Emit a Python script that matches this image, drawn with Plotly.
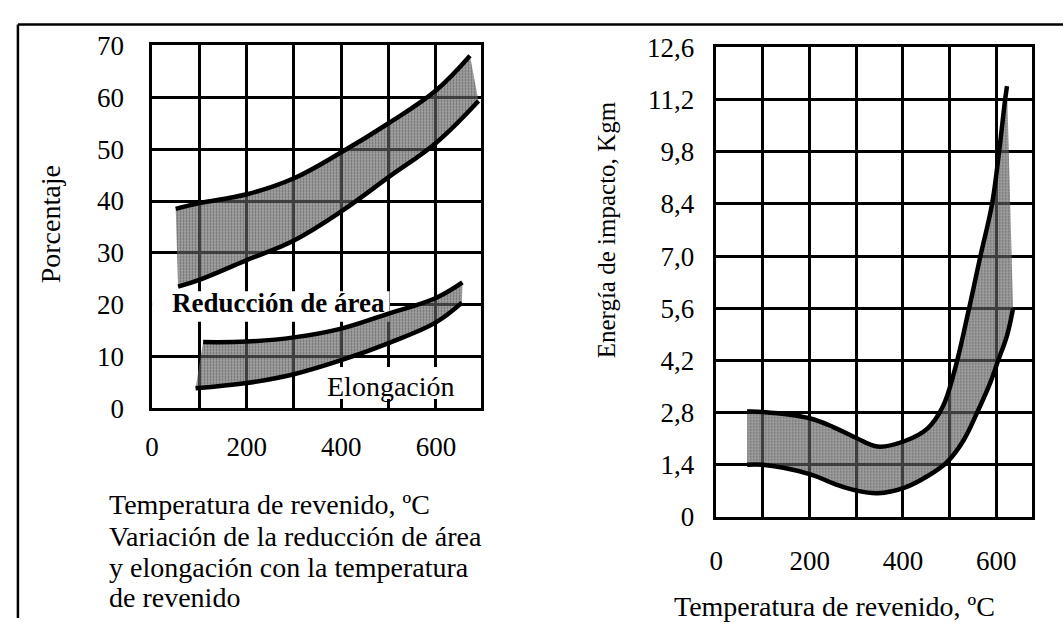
import plotly.graph_objects as go

W, H = 1063, 633
SERIF = "Liberation Serif"

# ---- Left panel: reducción de área y elongación (%) vs temperatura de revenido (°C)
ra_upper_t = [50, 100, 200, 300, 400, 500, 600, 672]
ra_upper = [38.5, 39.6, 41.3, 44.4, 49.4, 55.0, 61.3, 68.0]
ra_lower_t = [55, 100, 200, 300, 400, 500, 600, 690]
ra_lower = [23.5, 24.8, 28.6, 32.4, 38.0, 44.6, 51.2, 59.3]

el_upper_t = [108, 200, 300, 400, 500, 600, 656]
el_upper = [12.8, 12.9, 13.7, 15.4, 18.3, 21.3, 24.3]
el_lower_t = [92, 200, 300, 400, 500, 600, 655]
el_lower = [3.9, 4.9, 6.6, 9.3, 12.6, 16.6, 20.4]

left_y_ticks = [0, 10, 20, 30, 40, 50, 60, 70]
left_x_ticks = [0, 200, 400, 600]

# ---- Right panel: energía de impacto (Kgm) vs temperatura de revenido (°C)
ie_upper_t = [66, 100, 200, 253, 300, 346, 404, 453, 485, 510, 540, 566, 591, 606, 619, 623]
ie_upper = [2.83, 2.82, 2.65, 2.40, 2.12, 1.89, 2.04, 2.38, 2.95, 3.90, 5.5, 7.0, 8.4, 9.8, 11.2, 11.56]
ie_lower_t = [66, 100, 200, 253, 300, 346, 404, 453, 495, 530, 560, 587, 604, 623, 636]
ie_lower = [1.40, 1.40, 1.15, 0.89, 0.71, 0.64, 0.79, 1.10, 1.48, 2.06, 2.83, 3.6, 4.2, 4.87, 5.6]

right_y_ticks = [0, 1.4, 2.8, 4.2, 5.6, 7.0, 8.4, 9.8, 11.2, 12.6]
right_y_labels = ["0", "1,4", "2,8", "4,2", "5,6", "7,0", "8,4", "9,8", "11,2", "12,6"]
right_x_ticks = [0, 200, 400, 600]


def px_x(p):
    return p / W


def px_y(p):
    return 1 - p / H


LINE = dict(color="black", width=4.5, shape="spline", smoothing=1.1)
FILL = "rgba(105,105,105,0.62)"
PATTERN = dict(shape=".", fgcolor="#303030", size=3, solidity=0.3, fillmode="overlay")


def band(fig, tx_lo, lo, tx_hi, hi, xa, ya):
    fig.add_trace(go.Scatter(x=tx_lo, y=lo, mode="lines", line=LINE,
                             xaxis=xa, yaxis=ya, hoverinfo="skip"))
    fig.add_trace(go.Scatter(x=tx_hi, y=hi, mode="lines", line=LINE,
                             fill="tonexty", fillcolor=FILL, fillpattern=PATTERN,
                             xaxis=xa, yaxis=ya, hoverinfo="skip"))


fig = go.Figure()
band(fig, ra_lower_t, ra_lower, ra_upper_t, ra_upper, "x", "y")
band(fig, el_lower_t, el_lower, el_upper_t, el_upper, "x", "y")
band(fig, ie_lower_t, ie_lower, ie_upper_t, ie_upper, "x2", "y2")

grid = dict(showgrid=True, gridcolor="black", gridwidth=2.5, zeroline=False,
            showline=True, linecolor="black", linewidth=2.5, mirror=True,
            ticks="", tickfont=dict(family=SERIF, size=27, color="black"))
minor = dict(dtick=100, tick0=0, showgrid=True, gridcolor="black", gridwidth=2.5)

fig.update_layout(
    width=W, height=H,
    margin=dict(l=0, r=0, t=0, b=0),
    paper_bgcolor="white", plot_bgcolor="white",
    showlegend=False,
    xaxis=dict(domain=[px_x(146), px_x(477)], range=[0, 695], tickvals=left_x_ticks,
               minor=minor, ticklabelstandoff=12, anchor="y", **grid),
    yaxis=dict(domain=[px_y(413), px_y(32)], range=[0, 70], tickvals=left_y_ticks,
               ticklabelstandoff=20, anchor="x", **grid),
    xaxis2=dict(domain=[px_x(714), px_x(1032)], range=[0, 677], tickvals=right_x_ticks,
                minor=minor, ticklabelstandoff=18, anchor="y2", **grid),
    yaxis2=dict(domain=[px_y(527), px_y(34)], range=[0, 12.6], tickvals=right_y_ticks,
                ticktext=right_y_labels, ticklabelstandoff=14, anchor="x2", **grid),
)

# white label backgrounds that interrupt the grid
for x0, x1, y0, y1 in [(0, 502, 16.7, 22.6), (361, 680, 1.8, 8.0)]:
    fig.add_shape(type="rect", xref="x", yref="y", x0=x0, x1=x1, y0=y0, y1=y1,
                  fillcolor="white", line_width=0, layer="between")

# outer frame (top and left edges)
frame = dict(color="black", width=2.5)
fig.add_shape(type="line", xref="paper", yref="paper", x0=px_x(11), x1=1,
              y0=px_y(10), y1=px_y(10), line=frame)
fig.add_shape(type="line", xref="paper", yref="paper", x0=px_x(11), x1=px_x(11),
              y0=px_y(10), y1=0, line=frame)

txt = dict(family=SERIF, size=28, color="black")
ann = [
    dict(text="Porcentaje", x=px_x(44), y=px_y(220), textangle=-90, xanchor="center", font=txt),
    dict(text="Energía de impacto, Kgm", x=px_x(603), y=px_y(226), textangle=-90,
         xanchor="center", font=dict(family=SERIF, size=25, color="black")),
    dict(text="Temperatura de revenido, ºC", x=px_x(101), y=px_y(514), xanchor="left", font=txt),
    dict(text="Variación de la reducción de área", x=px_x(101), y=px_y(547), xanchor="left", font=txt),
    dict(text="y elongación con la temperatura", x=px_x(101), y=px_y(580), xanchor="left", font=txt),
    dict(text="de revenido", x=px_x(101), y=px_y(611), xanchor="left", font=txt),
    dict(text="Temperatura de revenido, ºC", x=px_x(833), y=px_y(621), xanchor="center", font=txt),
]
for a in ann:
    fig.add_annotation(xref="paper", yref="paper", showarrow=False, yanchor="middle", **a)

fig.add_annotation(text="Reducción de área", xref="x", yref="y", x=268, y=20.4,
                   showarrow=False, font=dict(family=SERIF, size=27, color="black", weight="bold"),
                   xanchor="center", yanchor="middle")
fig.add_annotation(text="Elongación", xref="x", yref="y", x=505, y=4.2,
                   showarrow=False, font=dict(family=SERIF, size=28, color="black"),
                   xanchor="center", yanchor="middle")

fig.write_html("out.html")
